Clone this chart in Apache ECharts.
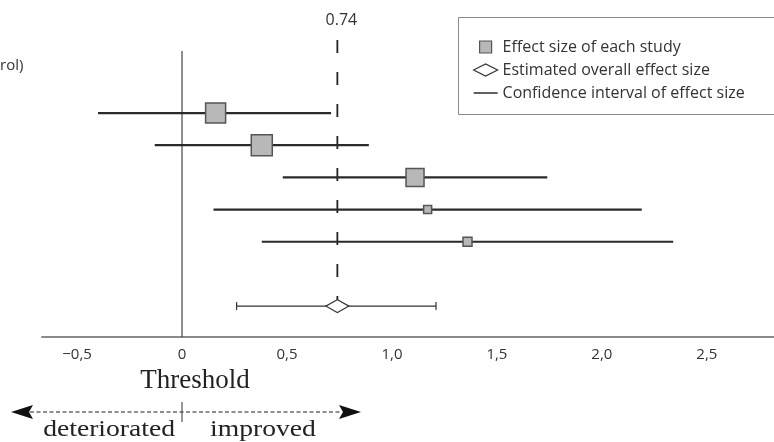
<!DOCTYPE html>
<html><head><meta charset="utf-8">
<script src="https://cdn.jsdelivr.net/npm/echarts@6/dist/echarts.min.js"></script>
<style>html,body{margin:0;padding:0;background:#fff}#c{width:774px;height:442px}</style>
</head><body><div id="c"></div>
<script>
// ---- data ----
const studyRows = [1, 2, 3, 4, 5];
const studyEffect = [0.16, 0.38, 1.11, 1.17, 1.36];
const studyLow = [-0.40, -0.13, 0.48, 0.15, 0.38];
const studyHigh = [0.71, 0.89, 1.74, 2.19, 2.34];
const studyWeight = [0.20, 0.21, 0.18, 0.08, 0.09];
const overallRow = 7;
const overallEffect = 0.74;
const overallLow = 0.26;
const overallHigh = 1.21;
const thresholdValue = 0;
const tickValues = [-0.5, 0, 0.5, 1, 1.5, 2, 2.5];
const tickLabels = ['\u22120,5', '0', '0,5', '1,0', '1,5', '2,0', '2,5'];
const seriesNames = ['Effect size of each study', 'Estimated overall effect size', 'Confidence interval of effect size'];

const X_MIN = -0.667, X_MAX = 2.82, Y_MIN = -1.27, Y_MAX = 7.96;
const sansFont = '"Open Sans","Noto Sans",sans-serif';
const serifFont = '"Liberation Serif","DejaVu Serif",serif';

const ciData = studyRows.map((r, i) => [studyLow[i], studyHigh[i], r, 0]);
ciData.push([overallLow, overallHigh, overallRow, 1]);

const chart = echarts.init(document.getElementById('c'), null, {renderer: 'canvas'});
const diamondPath = 'path://M0,5L10,0L20,5L10,10Z';
chart.setOption({
  animation: false,
  grid: {left: 42, right: 0, top: 40, bottom: 105},
  xAxis: {
    type: 'value', min: X_MIN, max: X_MAX,
    axisLine: {onZero: false, lineStyle: {color: '#8a8a8a', width: 2}},
    axisTick: {show: false},
    splitLine: {show: false},
    axisLabel: {
      customValues: tickValues,
      formatter: v => { const i = tickValues.findIndex(t => Math.abs(t - v) < 1e-9); return i >= 0 ? tickLabels[i] : ''; },
      color: '#333', fontFamily: sansFont, fontSize: 15, margin: 10
    }
  },
  yAxis: {type: 'value', min: Y_MIN, max: Y_MAX, inverse: true, show: false},
  legend: {
    orient: 'vertical', left: 468, top: 34, itemWidth: 24, itemHeight: 12, itemGap: 7,
    textStyle: {color: '#333', fontFamily: sansFont, fontSize: 16},
    data: [
      {name: seriesNames[0], icon: 'path://M0,0h10v10h-10z', itemStyle: {color: '#b8b8b8', borderColor: '#555', borderWidth: 1.2}},
      {name: seriesNames[1], icon: diamondPath, itemStyle: {color: '#fff', borderColor: '#333', borderWidth: 1.2}},
      {name: seriesNames[2], icon: 'path://M0,0h20v1.3h-20z', itemStyle: {color: '#333'}}
    ]
  },
  graphic: [
    {type: 'rect', shape: {x: 458.5, y: 17.5, width: 340, height: 97}, style: {fill: 'none', stroke: '#8a8a8a', lineWidth: 1}, z: 1},
    {type: 'text', left: 0, top: 58, style: {text: 'rol)', font: '15px ' + sansFont, fill: '#333'}},
    {type: 'text', x: 195, y: 381, style: {text: 'Threshold', font: '27px ' + serifFont, fill: '#222', align: 'center', verticalAlign: 'middle'}},
    {type: 'text', x: 175, y: 430, scaleX: 1.2, style: {text: 'deteriorated', font: '23px ' + serifFont, fill: '#222', align: 'right', verticalAlign: 'middle'}},
    {type: 'text', x: 210, y: 430, scaleX: 1.2, style: {text: 'improved', font: '23px ' + serifFont, fill: '#222', align: 'left', verticalAlign: 'middle'}},
    {type: 'line', shape: {x1: 30, y1: 412, x2: 342, y2: 412}, style: {stroke: '#222', lineWidth: 1.2, lineDash: [4, 2.5]}},
    {type: 'polygon', shape: {points: [[11, 412], [33, 405], [29, 412], [33, 419]]}, style: {fill: '#111'}},
    {type: 'polygon', shape: {points: [[361, 412], [339, 405], [343, 412], [339, 419]]}, style: {fill: '#111'}},
    {type: 'line', shape: {x1: 182, y1: 402, x2: 182, y2: 422}, style: {stroke: '#333', lineWidth: 1}}
  ],
  series: [
    {
      type: 'custom', name: 'refs', silent: true, z: 1,
      data: [[thresholdValue, 0], [overallEffect, 1]],
      renderItem: (params, api) => {
        const v = api.value(0), kind = api.value(1);
        if (kind === 0) {
          const p1 = api.coord([v, -0.93]), p2 = api.coord([v, Y_MAX]);
          return {type: 'line', shape: {x1: p1[0], y1: p1[1], x2: p2[0], y2: p2[1]}, style: {stroke: '#444', lineWidth: 1.2}};
        }
        const p1 = api.coord([v, Y_MIN]), p2 = api.coord([v, 7.55]);
        return {type: 'group', children: [
          {type: 'line', shape: {x1: p1[0], y1: p1[1], x2: p2[0], y2: p2[1]}, style: {stroke: '#222', lineWidth: 1.8, lineDash: [13, 19]}},
          {type: 'text', x: p1[0] + 4, y: p1[1] - 20, style: {text: String(v), font: '16px ' + sansFont, fill: '#333', align: 'center', verticalAlign: 'middle'}}
        ]};
      }
    },
    {
      type: 'custom', name: seriesNames[2], z: 2, itemStyle: {color: '#333'},
      data: ciData,
      renderItem: (params, api) => {
        const lo = api.coord([api.value(0), api.value(2)]);
        const hi = api.coord([api.value(1), api.value(2)]);
        if (api.value(3) === 0) {
          return {type: 'line', shape: {x1: lo[0], y1: lo[1], x2: hi[0], y2: hi[1]}, style: {stroke: '#2a2a2a', lineWidth: 2.2}};
        }
        return {type: 'group', children: [
          {type: 'line', shape: {x1: lo[0], y1: lo[1], x2: hi[0], y2: hi[1]}, style: {stroke: '#333', lineWidth: 1.2}},
          {type: 'line', shape: {x1: lo[0], y1: lo[1] - 4, x2: lo[0], y2: lo[1] + 4}, style: {stroke: '#333', lineWidth: 1.2}},
          {type: 'line', shape: {x1: hi[0], y1: hi[1] - 4, x2: hi[0], y2: hi[1] + 4}, style: {stroke: '#333', lineWidth: 1.2}}
        ]};
      }
    },
    {
      type: 'scatter', name: seriesNames[0], z: 3,
      symbol: 'rect',
      data: studyRows.map((r, i) => ({value: [studyEffect[i], r], symbolSize: studyWeight[i] * 100})),
      itemStyle: {color: '#b8b8b8', borderColor: '#555', borderWidth: 1.5, opacity: 1}
    },
    {
      type: 'scatter', name: seriesNames[1], z: 3,
      symbol: diamondPath, symbolSize: [23, 13], symbolKeepAspect: false,
      data: [[overallEffect, overallRow]],
      itemStyle: {color: '#fff', borderColor: '#333', borderWidth: 1.3, opacity: 1}
    }
  ]
});
</script></body></html>
